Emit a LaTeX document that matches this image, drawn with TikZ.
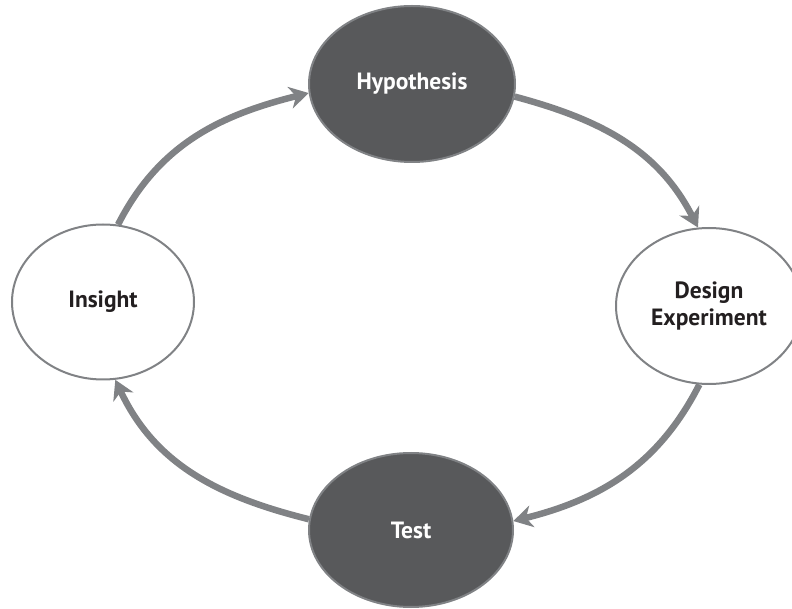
\documentclass[tikz,border=0pt]{standalone}
\usepackage{fontspec}
\setmainfont{PT Sans}
\usetikzlibrary{arrows.meta,shapes.geometric}
\definecolor{arrowgray}{HTML}{808285}
\definecolor{darkfill}{HTML}{58595B}
\definecolor{textdark}{HTML}{231F20}
\begin{document}
\begin{tikzpicture}[x=1pt,y=1pt,
  stage/.style={ellipse, draw=arrowgray, line width=2pt, inner sep=0pt,
    font=\fontsize{23.5}{27}\selectfont\bfseries, align=center},
  darkstage/.style={stage, fill=darkfill, text=white},
  lightstage/.style={stage, fill=white, text=textdark},
  flow/.style={draw=arrowgray, line width=6.5pt,
    -{Stealth[length=19pt,width=22pt,inset=6pt]}}]
\useasboundingbox (0,0) rectangle (792,608);
\node[darkstage, minimum width=206pt, minimum height=156pt] (hyp) at (412,524) {Hypothesis};
\node[lightstage, minimum width=186pt, minimum height=156pt] (des) at (709,302) {Design\\Experiment};
\node[darkstage, minimum width=204pt, minimum height=154pt] (tst) at (411,78) {Test};
\node[lightstage, minimum width=182pt, minimum height=155pt] (ins) at (103,306) {Insight};
\draw[flow] (ins.79) to[out=63,in=194] (hyp.185);
\draw[flow] (hyp.-7) to[out=-15,in=117] (des.98);
\draw[flow] (des.263) to[out=243,in=14] (tst.5);
\draw[flow] (tst.174) to[out=166,in=295] (ins.279);
\end{tikzpicture}
\end{document}
